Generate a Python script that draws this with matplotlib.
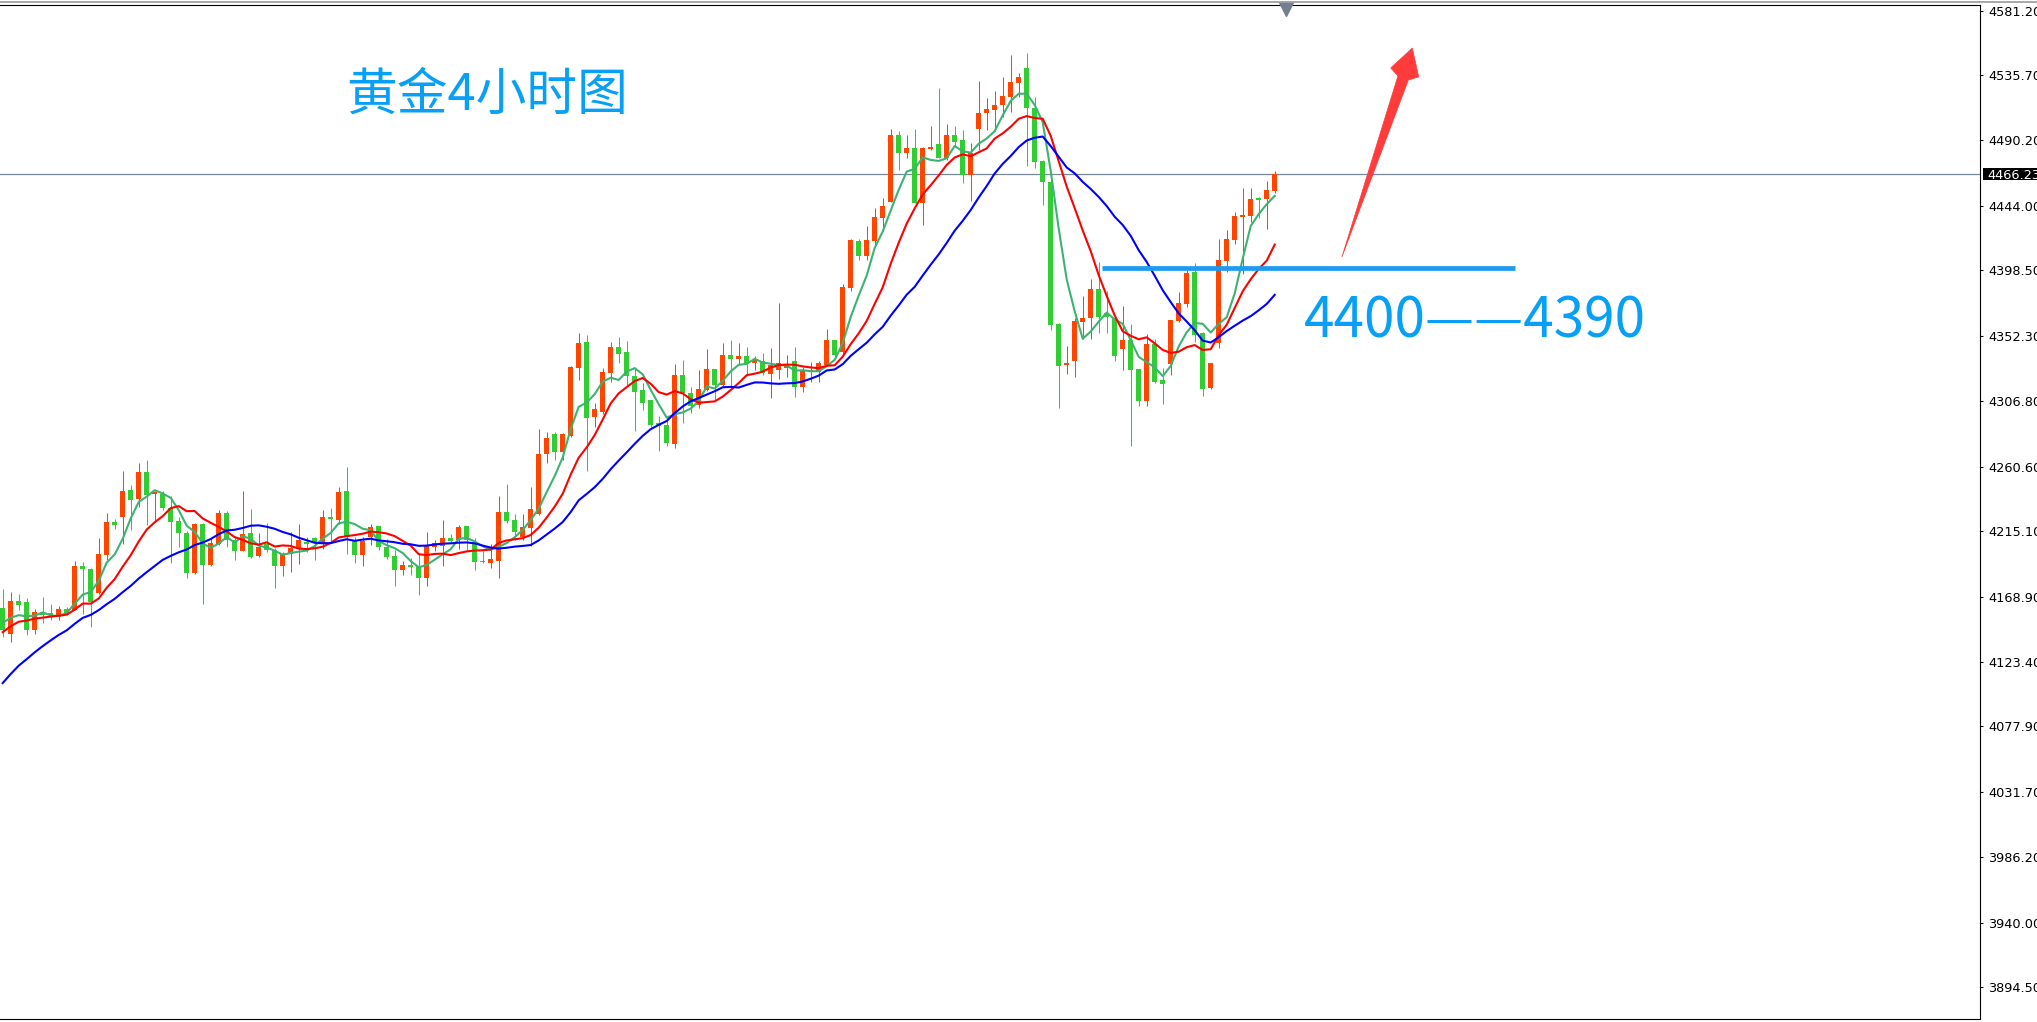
import numpy as np
import pandas as pd
import matplotlib
matplotlib.use("Agg")
import matplotlib.pyplot as plt
import matplotlib.transforms as mtransforms
from matplotlib.patches import Polygon, Rectangle
from matplotlib.lines import Line2D

# ---------------- data (gold, 4-hour candles) ----------------
open_ = [4161.1, 4143.2, 4166.1, 4165.2, 4145.5, 4158.0, 4157.4, 4155.0, 4160.5, 4159.9,
         4190.8, 4188.5, 4171.7, 4198.2, 4221.8, 4225.2, 4244.2, 4237.6, 4257.0, 4241.6,
         4241.2, 4231.3, 4222.4, 4213.9, 4185.6, 4220.5, 4191.2, 4206.4, 4228.0, 4209.1,
         4201.4, 4213.8, 4197.6, 4206.0, 4202.1, 4190.6, 4199.1, 4202.3, 4207.8, 4210.2,
         4206.4, 4224.9, 4223.3, 4243.7, 4208.6, 4198.3, 4210.8, 4218.5, 4204.3, 4197.8,
         4187.8, 4191.4, 4190.8, 4182.3, 4204.2, 4204.7, 4210.2, 4209.3, 4218.5, 4206.8,
         4194.5, 4193.0, 4194.5, 4228.9, 4223.1, 4211.2, 4217.7, 4227.2, 4269.3, 4283.6,
         4270.9, 4282.4, 4329.9, 4348.2, 4295.6, 4298.9, 4326.5, 4344.3, 4340.9, 4324.4,
         4314.1, 4307.6, 4291.0, 4289.9, 4276.8, 4325.1, 4312.2, 4303.8, 4314.2, 4329.3,
         4317.7, 4339.0, 4336.2, 4338.3, 4333.6, 4335.1, 4325.6, 4328.5, 4330.1, 4335.0,
         4316.6, 4327.3, 4327.3, 4331.8, 4349.7, 4341.1, 4385.8, 4419.2, 4408.6, 4418.9,
         4435.4, 4446.5, 4493.8, 4481.2, 4484.5, 4445.8, 4483.6, 4487.2, 4477.6, 4493.7,
         4490.0, 4465.4, 4498.2, 4508.9, 4511.3, 4514.7, 4520.6, 4530.4, 4540.8, 4512.9,
         4475.1, 4460.9, 4360.8, 4332.0, 4334.9, 4362.5, 4365.2, 4385.5, 4368.4, 4365.0,
         4343.0, 4349.7, 4329.1, 4306.6, 4347.0, 4321.1, 4332.5, 4363.1, 4374.7, 4397.3,
         4354.6, 4315.5, 4347.8, 4405.1, 4420.2, 4436.3, 4436.8, 4449.1, 4448.4, 4454.0]
high = [4174.6, 4172.4, 4171.1, 4168.1, 4160.2, 4168.6, 4164.0, 4162.6, 4161.7, 4194.3,
        4193.4, 4189.2, 4210.4, 4227.9, 4223.5, 4257.7, 4247.7, 4262.9, 4265.5, 4243.5,
        4243.6, 4239.6, 4225.0, 4215.1, 4220.7, 4220.9, 4210.2, 4230.1, 4229.2, 4211.5,
        4243.4, 4230.9, 4213.7, 4220.9, 4203.2, 4200.8, 4214.3, 4220.4, 4210.8, 4211.4,
        4230.1, 4231.8, 4246.5, 4260.6, 4211.4, 4211.3, 4220.3, 4218.5, 4209.5, 4202.1,
        4194.2, 4196.1, 4199.8, 4214.3, 4209.0, 4222.7, 4213.3, 4219.6, 4218.5, 4210.4,
        4200.9, 4206.3, 4240.1, 4248.6, 4227.4, 4227.4, 4245.9, 4287.2, 4284.7, 4284.8,
        4283.9, 4331.0, 4354.8, 4353.0, 4305.0, 4329.8, 4348.5, 4351.4, 4349.2, 4329.9,
        4319.3, 4307.6, 4295.8, 4295.9, 4332.8, 4335.8, 4316.4, 4328.7, 4343.4, 4329.3,
        4347.3, 4349.7, 4347.3, 4344.3, 4338.3, 4340.3, 4343.9, 4375.9, 4339.1, 4344.5,
        4330.8, 4334.4, 4335.1, 4357.2, 4349.7, 4389.0, 4420.9, 4420.4, 4429.9, 4442.2,
        4449.7, 4498.0, 4496.6, 4493.8, 4498.2, 4485.2, 4500.2, 4526.5, 4501.5, 4500.1,
        4497.5, 4488.0, 4531.9, 4519.6, 4524.3, 4534.2, 4550.2, 4537.1, 4551.0, 4520.7,
        4475.8, 4462.1, 4361.3, 4345.5, 4365.0, 4380.7, 4392.5, 4404.4, 4383.8, 4366.2,
        4373.3, 4361.1, 4329.1, 4354.1, 4350.3, 4329.8, 4363.8, 4383.0, 4398.9, 4403.5,
        4355.0, 4333.4, 4420.7, 4427.0, 4439.8, 4456.2, 4456.2, 4449.8, 4461.6, 4468.5]
low = [4140.9, 4137.2, 4159.7, 4142.0, 4142.7, 4150.3, 4152.7, 4152.7, 4156.2, 4159.5,
       4157.1, 4147.7, 4171.2, 4194.7, 4216.8, 4206.2, 4216.2, 4232.1, 4219.3, 4221.6,
       4230.0, 4192.7, 4204.1, 4181.9, 4185.2, 4164.0, 4190.8, 4205.2, 4203.7, 4194.8,
       4201.0, 4196.0, 4197.1, 4200.8, 4175.3, 4183.7, 4186.6, 4192.4, 4200.8, 4194.7,
       4202.8, 4207.6, 4220.0, 4199.4, 4192.5, 4190.7, 4205.3, 4201.9, 4195.3, 4176.7,
       4184.7, 4184.3, 4170.6, 4176.6, 4201.4, 4190.7, 4206.6, 4202.9, 4201.8, 4187.8,
       4192.6, 4189.5, 4182.0, 4221.1, 4209.3, 4208.9, 4204.4, 4226.7, 4263.1, 4265.1,
       4264.9, 4281.2, 4321.6, 4257.6, 4288.4, 4297.7, 4320.1, 4333.6, 4317.9, 4285.5,
       4300.3, 4288.6, 4271.6, 4275.0, 4273.3, 4291.2, 4297.9, 4302.1, 4313.8, 4307.2,
       4317.0, 4316.5, 4331.9, 4325.5, 4328.4, 4324.9, 4308.8, 4322.1, 4323.3, 4309.6,
       4313.0, 4320.2, 4320.2, 4331.8, 4336.0, 4338.0, 4384.1, 4405.7, 4405.7, 4415.4,
       4427.9, 4446.5, 4469.3, 4477.7, 4445.8, 4430.4, 4483.1, 4477.2, 4475.9, 4484.9,
       4460.1, 4447.6, 4482.8, 4497.0, 4496.6, 4506.0, 4509.9, 4520.5, 4472.0, 4470.2,
       4444.3, 4356.6, 4301.6, 4325.6, 4323.6, 4350.6, 4350.5, 4354.6, 4354.6, 4334.9,
       4328.3, 4275.3, 4303.3, 4303.1, 4319.4, 4304.9, 4324.7, 4362.4, 4372.8, 4348.2,
       4310.0, 4315.4, 4343.8, 4397.3, 4416.8, 4396.3, 4432.7, 4435.0, 4427.3, 4453.2]
close = [4145.6, 4166.2, 4163.3, 4146.0, 4158.1, 4156.3, 4156.4, 4160.5, 4156.9, 4190.8,
         4188.4, 4165.5, 4199.2, 4221.5, 4219.5, 4243.4, 4237.0, 4256.8, 4240.6, 4242.1,
         4231.7, 4221.8, 4213.6, 4185.9, 4220.3, 4191.3, 4206.6, 4227.8, 4209.0, 4201.5,
         4213.3, 4197.2, 4204.2, 4202.0, 4190.7, 4199.1, 4203.1, 4209.0, 4205.8, 4206.6,
         4224.9, 4223.5, 4242.7, 4211.2, 4198.4, 4208.5, 4218.4, 4204.2, 4197.2, 4187.8,
         4191.4, 4190.2, 4182.5, 4205.0, 4206.6, 4210.2, 4208.3, 4218.4, 4209.0, 4193.8,
         4193.3, 4195.6, 4228.9, 4222.5, 4214.3, 4218.4, 4230.7, 4269.4, 4280.4, 4271.0,
         4283.5, 4330.6, 4347.7, 4294.8, 4301.0, 4327.4, 4344.3, 4339.8, 4324.3, 4313.3,
         4305.5, 4289.8, 4289.1, 4277.3, 4325.0, 4312.1, 4303.1, 4315.1, 4329.2, 4317.9,
         4339.0, 4336.2, 4338.3, 4332.6, 4335.5, 4326.1, 4332.0, 4333.2, 4332.0, 4316.7,
         4327.7, 4328.5, 4333.2, 4349.6, 4339.0, 4386.6, 4420.2, 4408.6, 4420.0, 4436.3,
         4444.0, 4494.0, 4481.2, 4484.3, 4445.8, 4484.5, 4485.0, 4477.7, 4493.7, 4488.9,
         4465.5, 4480.8, 4508.9, 4512.0, 4514.8, 4521.1, 4531.2, 4534.2, 4512.4, 4474.9,
         4460.9, 4360.2, 4331.4, 4333.2, 4362.7, 4364.8, 4385.4, 4366.0, 4365.5, 4338.2,
         4349.6, 4328.4, 4306.8, 4347.0, 4320.2, 4318.7, 4363.8, 4375.4, 4397.0, 4353.0,
         4315.4, 4333.3, 4405.9, 4420.4, 4436.8, 4437.0, 4448.4, 4447.9, 4455.0, 4466.23]
# closes of the 19 bars just before the visible window (needed for the moving averages)
prior_close = [4039, 4046, 4054, 4062, 4069, 4076, 4084, 4092, 4099, 4105,
               4124, 4132, 4138, 4144, 4149.5, 4149, 4154, 4150, 4155.4]
ma_periods = [5, 10, 20]
ma_colors = ["#3CB371", "#FF0000", "#0000FF"]

y_ticks = [4581.20, 4535.70, 4490.20, 4444.00, 4398.50, 4352.30, 4306.80, 4260.60,
           4215.10, 4168.90, 4123.40, 4077.90, 4031.70, 3986.20, 3940.00, 3894.50]
last_price = 4466.23
level_price = 4400.0
title_text = "黄金4小时图"
level_text = "4400——4390"

# ---------------- figure ----------------
W, H = 2037, 1022
fig = plt.figure(figsize=(W / 100, H / 100), dpi=100)
fig.patch.set_facecolor("white")
ax_left, ax_right = 0.0, 1980 / W
ax_bottom, ax_top = (H - 1019) / H, (H - 4.7) / H
ax = fig.add_axes([ax_left, ax_bottom, ax_right - ax_left, ax_top - ax_bottom])
ax.set_facecolor("white")

o = np.array(open_); h = np.array(high); l = np.array(low); c = np.array(close)
n = len(c)
idx = np.arange(n)
up = c >= o
col_up, col_dn = "#FF4500", "#32CD32"
colors = np.where(up, col_up, col_dn)

# wicks
ax.vlines(idx, l, h, colors=colors, linewidth=0.75, zorder=3)
# bodies
body_lo = np.minimum(o, c)
body_h = np.maximum(np.abs(c - o), 0.8)
ax.bar(idx, body_h, bottom=body_lo, width=0.62, color=colors, linewidth=0, zorder=3)

# moving averages
all_close = pd.Series(list(prior_close) + list(close))
for p, colr in zip(ma_periods, ma_colors):
    ma = all_close.rolling(p).mean().to_numpy()[len(prior_close):]
    ax.plot(idx, ma, color=colr, linewidth=1.5, zorder=4, solid_joinstyle="round")

# last price line
ax.axhline(last_price, color="#778899", linewidth=0.9, zorder=1)

# support level
ax.plot([137.4, 189.0], [level_price, level_price], color="#1E9AF0", linewidth=3.4,
        solid_capstyle="butt", zorder=5)

# red arrow annotation
arrow = Polygon([(167.4, 4407.9), (175.7, 4532.3), (177.0, 4534.5), (176.2, 4554.8),
                 (173.5, 4540.8), (174.4, 4535.2)], closed=True,
                facecolor="#FF3B3B", edgecolor="#FF3B3B", linewidth=0.5, zorder=6)
ax.add_patch(arrow)

# chart-shift marker
ax.plot([160.4], [0.9962], marker="v", markersize=9.5, color="#708090",
        transform=mtransforms.blended_transform_factory(ax.transData, ax.transAxes),
        clip_on=False, zorder=7)

# texts
cjk = ["Noto Sans CJK SC", "DejaVu Sans"]
ax.text(42.9, 4511.2, title_text, color="#08A0F6", fontsize=36.5, family=cjk,
        ha="left", va="baseline", zorder=8)
ax.text(162.7, 4351.0, level_text, color="#08A0F6", fontsize=39.5, family=cjk,
        ha="left", va="baseline", zorder=8)

# axes styling
ax.set_xlim(-0.3375, 247.16)
ax.set_ylim(4581.2 - (1019 - 10.5) * 0.703, 4581.2 + (10.5 - 4.7) * 0.703)
ax.set_xticks([])
ax.yaxis.tick_right()
ax.set_yticks(y_ticks)
ax.set_yticklabels([f"{v:.2f}" for v in y_ticks])
ax.tick_params(axis="y", direction="out", length=2.5, width=0.8, pad=3.2,
               labelsize=9.3, colors="black")
for lab in ax.get_yticklabels():
    lab.set_family("DejaVu Sans")
ax.spines["left"].set_visible(False)
for s in ("top", "right", "bottom"):
    ax.spines[s].set_color("black")
    ax.spines[s].set_linewidth(0.8)

# last-price tag on the axis
blend = mtransforms.blended_transform_factory(fig.transFigure, ax.transData)
tag_h = 12 * 0.703
fig.add_artist(Rectangle((1983 / W, last_price - tag_h / 2), 60 / W, tag_h,
                         transform=blend, facecolor="black", edgecolor="none", zorder=9))
fig.add_artist(matplotlib.text.Text(1987.5 / W, last_price, f"{last_price:.2f}",
                                    transform=blend, color="white", fontsize=9.3,
                                    family="DejaVu Sans", ha="left", va="center_baseline",
                                    zorder=10))

# window frame line at the very top
fig.add_artist(Line2D([0, 1], [1 - 2.0 / H, 1 - 2.0 / H], color="#A0A0A0",
                      linewidth=1.3, transform=fig.transFigure))

fig.savefig("out.png", dpi=100, facecolor="white")
